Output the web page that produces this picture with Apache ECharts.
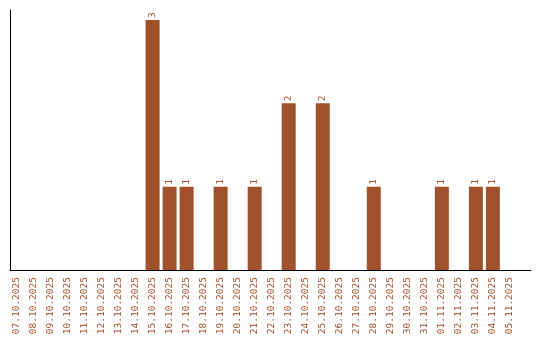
<!DOCTYPE html>
<html>
<head>
<meta charset="utf-8">
<script src="https://cdn.jsdelivr.net/npm/echarts@6/dist/echarts.min.js"></script>
<style>
html,body{margin:0;padding:0;background:#fff;}
#c{width:540px;height:340px;}
</style>
</head>
<body>
<div id="c"></div>
<script>
const categories = ["07.10.2025","08.10.2025","09.10.2025","10.10.2025","11.10.2025","12.10.2025","13.10.2025","14.10.2025","15.10.2025","16.10.2025","17.10.2025","18.10.2025","19.10.2025","20.10.2025","21.10.2025","22.10.2025","23.10.2025","24.10.2025","25.10.2025","26.10.2025","27.10.2025","28.10.2025","29.10.2025","30.10.2025","31.10.2025","01.11.2025","02.11.2025","03.11.2025","04.11.2025","05.11.2025"];
const values = [0,0,0,0,0,0,0,0,3,1,1,0,1,0,1,0,2,0,2,0,0,1,0,0,0,1,0,1,1,0];
const tickIndexes = categories.map((c, i) => i);

const color = '#a0522d';
const font = "'DejaVu Sans Mono', monospace";
const chart = echarts.init(document.getElementById('c'), null, {renderer: 'canvas'});
chart.setOption({
  animation: false,
  grid: {left: 10, right: 9, top: 10, bottom: 70, containLabel: false},
  xAxis: {
    type: 'value',
    min: -0.38,
    max: 30.24,
    splitLine: {show: false},
    axisTick: {show: false},
    axisLine: {show: true, onZero: false, lineStyle: {color: '#000', width: 1}},
    axisLabel: {
      customValues: tickIndexes,
      rotate: 90,
      margin: 7,
      color: color,
      fontFamily: font,
      fontSize: 9.5,
      formatter: v => categories[Math.round(v)] || ''
    }
  },
  yAxis: {
    type: 'value',
    min: 0,
    max: 3.12,
    splitLine: {show: false},
    axisTick: {show: false},
    axisLabel: {show: false},
    axisLine: {show: true, onZero: false, lineStyle: {color: '#000', width: 1}}
  },
  series: [{
    type: 'bar',
    barWidth: 14,
    data: values.map((v, i) => [i, v]),
    itemStyle: {color: color},
    label: {
      show: true,
      position: 'top',
      rotate: 90,
      align: 'left',
      verticalAlign: 'middle',
      distance: 2,
      color: color,
      fontFamily: font,
      fontSize: 9.5,
      formatter: p => p.value[1] ? String(p.value[1]) : ''
    }
  }]
});
</script>
</body>
</html>
